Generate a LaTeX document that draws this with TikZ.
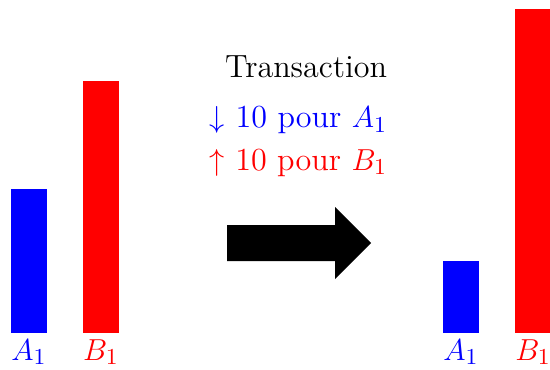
\documentclass[tikz,border=0pt]{standalone}
\usepackage{xcolor}
\usepackage{tikz}
\definecolor{MyBlue}{RGB}{0,0,255}
\definecolor{MyRed}{RGB}{255,0,0}
\tikzset{
    barA/.style={fill=MyBlue},
    barB/.style={fill=MyRed},
    lbl/.style={font=\fontsize{12.7pt}{15pt}\selectfont, inner sep=1pt}
}

\begin{document}
\begin{tikzpicture}[x=0.5cm, y=0.5cm]
    \useasboundingbox (-0.306,-1.0) rectangle (14.97,9.25);
    % avant
    \fill[barA] (0,0) rectangle (1,4);
    \fill[barB] (2,0) rectangle (3,7);
    \node[lbl, text=MyBlue, anchor=north] (a1) at (0.5,-0.1) {$A_1$};
    \node[lbl, text=MyRed, anchor=north] (b1) at (2.5,-0.1) {$B_1$};
    % apres
    \fill[barA] (12,0) rectangle (13,2);
    \fill[barB] (14,0) rectangle (15,9);
    \node[lbl, text=MyBlue, anchor=north] (a2) at (12.5,-0.1) {$A_1$};
    \node[lbl, text=MyRed, anchor=north] (b2) at (14.5,-0.1) {$B_1$};
    % fleche
    \fill (6,2) -- (9,2) -- (9,1.5) -- (10,2.5) -- (9,3.5) -- (9,3) -- (6,3) -- cycle;
    \node[lbl, anchor=base east] (trans) at (10.53,7.11) {Transaction};
    \node[lbl, text=MyBlue, anchor=base east] (moins) at (10.53,5.70) {$\downarrow$ 10 pour $A_1$};
    \node[lbl, text=MyRed, anchor=base east] (plus) at (10.53,4.52) {$\uparrow$ 10 pour $B_1$};
\end{tikzpicture}
\end{document}
